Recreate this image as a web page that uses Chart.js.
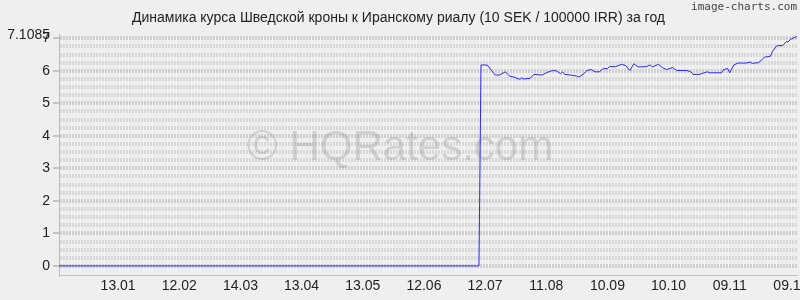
<!DOCTYPE html>
<html>
<head>
<meta charset="utf-8">
<script src="https://cdn.jsdelivr.net/npm/chart.js@4"></script>
<style>
  body { margin: 0; background: #efefef; }
  #wrap { width: 800px; height: 300px; }
</style>
</head>
<body>
<div id="wrap"><canvas id="rateChart"></canvas></div>
<script>
// SEK / IRR rate, one year (day 0 = 15.12)

const titleText = "Динамика курса Шведской кроны к Иранскому риалу (10 SEK / 100000 IRR) за год";

const days = [0, 206, 207, 210, 214, 216, 219, 221, 223, 226, 227, 228, 231, 233, 237, 239, 242, 244,
    246, 247, 248, 251, 254, 255, 257, 259, 261, 263, 265, 267, 269, 270, 273, 276, 278, 280, 282,
    284, 288, 290, 291, 294, 296, 298, 301, 303, 308, 310, 311, 314, 318, 319, 325, 326, 328, 329,
    331, 333, 337, 339, 340, 343, 345, 346, 349, 350, 352, 355, 357, 357.5, 359, 361, 362];

const rates = [0, 0, 6.18, 6.18, 5.87, 5.87, 5.97, 5.84, 5.81, 5.74, 5.78, 5.75, 5.77, 5.89, 5.87, 5.94,
    6.01, 6.00, 5.91, 5.97, 5.89, 5.87, 5.84, 5.81, 5.89, 6.01, 6.04, 5.97, 5.97, 6.07, 6.07, 6.13,
    6.13, 6.20, 6.16, 6.01, 6.22, 6.12, 6.13, 6.18, 6.12, 6.20, 6.10, 6.04, 6.10, 6.01, 6.01, 5.97,
    5.89, 5.89, 5.97, 5.94, 5.94, 6.04, 6.07, 5.94, 6.18, 6.24, 6.24, 6.27, 6.23, 6.25, 6.35, 6.42,
    6.45, 6.60, 6.77, 6.78, 6.91, 6.88, 6.98, 7.03, 7.06];

const tickDays = [29, 59, 89, 119, 149, 179, 209, 239, 269, 299, 329, 359];
const tickLabels = ["13.01", "12.02", "14.03", "13.04", "13.05", "12.06", "12.07", "11.08", "10.09", "10.10", "09.11", "09.12"];

const yMax = 7.1085;
const yGrid = [];
for (let g = 0; g <= 28; g++) yGrid.push(g / 4);   // grid row every 0.25
yGrid.push(yMax);

// watermark + image-charts label
const extras = {
    id: "extras",
    beforeDatasetsDraw(chart) {
        const ctx = chart.ctx;
        ctx.save();
        ctx.font = "42px 'Liberation Sans'";
        ctx.fillStyle = "rgba(120,120,120,0.25)";
        ctx.textAlign = "center";
        ctx.textBaseline = "alphabetic";
        ctx.fillText("© HQRates.com", 400, 160);
        ctx.restore();
    },
    afterDraw(chart) {
        const ctx = chart.ctx;
        ctx.save();
        ctx.font = "11px 'DejaVu Sans Mono'";
        ctx.fillStyle = "#444";
        ctx.textAlign = "right";
        ctx.textBaseline = "middle";
        ctx.fillText("image-charts.com", 797, 7);
        ctx.restore();
    }
};

new Chart("rateChart", {
    type: "line",
    data: {
        datasets: [{
            data: days.map((d, i) => ({ x: d, y: rates[i] })),
            borderColor: "rgb(40,40,255)",
            borderWidth: 1,
            pointRadius: 0,
            tension: 0,
        }]
    },
    options: {
        responsive: true,
        maintainAspectRatio: false,
        animation: false,
        layout: { padding: { left: 0, right: 3, top: 0, bottom: 0 } },
        plugins: {
            legend: { display: false },
            tooltip: { enabled: false },
            title: {
                display: true,
                text: titleText,
                color: "#222",
                font: { family: "'Liberation Sans'", size: 14, weight: "normal" },
                padding: { top: 10, bottom: 8 },
            }
        },
        scales: {
            x: {
                type: "linear",
                min: 0,
                max: 362,
                afterBuildTicks: (scale) => { scale.ticks = tickDays.map(v => ({ value: v })); },
                afterFit: (scale) => { scale.height = 25; scale.paddingLeft = 0; scale.paddingRight = 0; },
                grid: { display: false, drawTicks: false },
                border: { display: true, color: "#c4c4c4", dash: [1, 1] },
                ticks: {
                    autoSkip: false,
                    maxRotation: 0,
                    padding: 3,
                    color: "#222",
                    font: { family: "'Liberation Sans'", size: 14 },
                    callback: (v) => tickLabels[tickDays.indexOf(v)],
                }
            },
            y: {
                min: -0.28,
                max: yMax,
                afterBuildTicks: (scale) => { scale.ticks = yGrid.map(v => ({ value: v })); },
                afterFit: (scale) => { scale.width = 59; scale.paddingTop = 0; scale.paddingBottom = 0; },
                grid: {
                    color: (c) => Number.isInteger(c.tick.value) ? "#cfcfcf" : "#d8d8d8",
                    lineWidth: (c) => c.tick.value === yMax ? 0 : 4,
                    borderDash: [1, 1],
                    tickLength: 6,
                    tickWidth: 1,
                    tickBorderDash: [],
                    tickColor: (c) => Number.isInteger(c.tick.value) ? "#999" : "rgba(0,0,0,0)",
                },
                border: { display: true, color: "#bbb", dash: [2, 1] },
                ticks: {
                    autoSkip: false,
                    padding: 3,
                    color: "#222",
                    font: { family: "'Liberation Sans'", size: 14 },
                    callback: (v) => v === yMax ? "7.1085" : (Number.isInteger(v) ? v : ""),
                }
            }
        }
    },
    plugins: [extras]
});
</script>
</body>
</html>
